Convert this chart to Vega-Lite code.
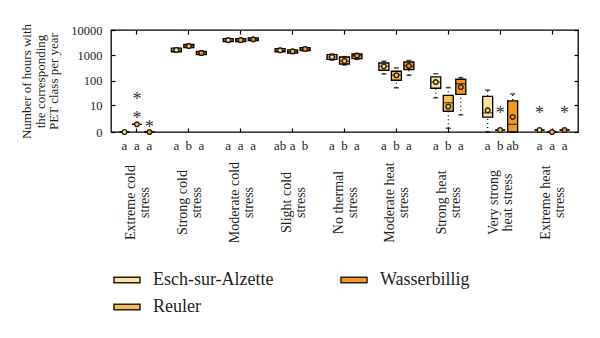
{
  "$schema": "https://vega.github.io/schema/vega-lite/v6.json",
  "padding": {"left": 20, "top": 22, "right": 10, "bottom": 5},
  "background": "white",
  "bounds": "flush",
  "config": {"view": {"stroke": null}, "font": "Liberation Serif"},
  "spacing": 5,
  "datasets": {
    "boxes": [
      {"pet": "Extreme cold stress", "station": "Esch-sur-Alzette", "letter": "a", "min": 0, "q1": 0, "median": 0, "q3": 0, "max": 0, "mean": 0},
      {"pet": "Extreme cold stress", "station": "Reuler", "letter": "a", "min": 1, "q1": 1, "median": 1, "q3": 1, "max": 1, "mean": 1},
      {"pet": "Extreme cold stress", "station": "Wasserbillig", "letter": "a", "min": 0, "q1": 0, "median": 0, "q3": 0, "max": 0, "mean": 0},
      {"pet": "Strong cold stress", "station": "Esch-sur-Alzette", "letter": "a", "min": 1350, "q1": 1400, "median": 1650, "q3": 1950, "max": 2000, "mean": 1650},
      {"pet": "Strong cold stress", "station": "Reuler", "letter": "b", "min": 2000, "q1": 2050, "median": 2350, "q3": 2700, "max": 2800, "mean": 2350},
      {"pet": "Strong cold stress", "station": "Wasserbillig", "letter": "a", "min": 1050, "q1": 1080, "median": 1250, "q3": 1450, "max": 1500, "mean": 1250},
      {"pet": "Moderate cold stress", "station": "Esch-sur-Alzette", "letter": "a", "min": 3400, "q1": 3500, "median": 4000, "q3": 4600, "max": 4700, "mean": 4000},
      {"pet": "Moderate cold stress", "station": "Reuler", "letter": "a", "min": 3400, "q1": 3500, "median": 4000, "q3": 4600, "max": 4700, "mean": 4000},
      {"pet": "Moderate cold stress", "station": "Wasserbillig", "letter": "a", "min": 3700, "q1": 3800, "median": 4300, "q3": 4900, "max": 5000, "mean": 4300},
      {"pet": "Slight cold stress", "station": "Esch-sur-Alzette", "letter": "ab", "min": 1350, "q1": 1400, "median": 1600, "q3": 1850, "max": 1900, "mean": 1600},
      {"pet": "Slight cold stress", "station": "Reuler", "letter": "a", "min": 1200, "q1": 1250, "median": 1450, "q3": 1650, "max": 1700, "mean": 1450},
      {"pet": "Slight cold stress", "station": "Wasserbillig", "letter": "b", "min": 1500, "q1": 1550, "median": 1800, "q3": 2050, "max": 2100, "mean": 1800},
      {"pet": "No thermal stress", "station": "Esch-sur-Alzette", "letter": "a", "min": 650, "q1": 710, "median": 870, "q3": 1075, "max": 1150, "mean": 870},
      {"pet": "No thermal stress", "station": "Reuler", "letter": "b", "min": 424, "q1": 464, "median": 600, "q3": 873, "max": 900, "mean": 608},
      {"pet": "No thermal stress", "station": "Wasserbillig", "letter": "a", "min": 700, "q1": 750, "median": 980, "q3": 1145, "max": 1200, "mean": 985},
      {"pet": "Moderate heat stress", "station": "Esch-sur-Alzette", "letter": "a", "min": 188, "q1": 263, "median": 380, "q3": 508, "max": 592, "mean": 376},
      {"pet": "Moderate heat stress", "station": "Reuler", "letter": "b", "min": 53, "q1": 106, "median": 170, "q3": 240, "max": 323, "mean": 167},
      {"pet": "Moderate heat stress", "station": "Wasserbillig", "letter": "a", "min": 167, "q1": 278, "median": 390, "q3": 556, "max": 637, "mean": 387},
      {"pet": "Strong heat stress", "station": "Esch-sur-Alzette", "letter": "a", "min": 21, "q1": 51, "median": 90, "q3": 143, "max": 192, "mean": 90},
      {"pet": "Strong heat stress", "station": "Reuler", "letter": "b", "min": 0.4, "q1": 5.5, "median": 13, "q3": 26.5, "max": 54, "mean": 9},
      {"pet": "Strong heat stress", "station": "Wasserbillig", "letter": "a", "min": 3.7, "q1": 29, "median": 77, "q3": 116, "max": 136, "mean": 57},
      {"pet": "Very strong heat stress", "station": "Esch-sur-Alzette", "letter": "a", "min": 0, "q1": 2.8, "median": 4.6, "q3": 24, "max": 43, "mean": 6.1},
      {"pet": "Very strong heat stress", "station": "Reuler", "letter": "b", "min": 0.2, "q1": 0.2, "median": 0.2, "q3": 0.2, "max": 0.2, "mean": 0.2},
      {"pet": "Very strong heat stress", "station": "Wasserbillig", "letter": "ab", "min": 0, "q1": 0, "median": 1, "q3": 15.5, "max": 30, "mean": 2.9},
      {"pet": "Extreme heat stress", "station": "Esch-sur-Alzette", "letter": "a", "min": 0.2, "q1": 0.2, "median": 0.2, "q3": 0.2, "max": 0.2, "mean": 0.2},
      {"pet": "Extreme heat stress", "station": "Reuler", "letter": "a", "min": 0, "q1": 0, "median": 0, "q3": 0, "max": 0, "mean": 0},
      {"pet": "Extreme heat stress", "station": "Wasserbillig", "letter": "a", "min": 0.2, "q1": 0.2, "median": 0.2, "q3": 0.2, "max": 0.2, "mean": 0.2}
    ],
    "outliers": [
      {"pet": "Extreme cold stress", "station": "Reuler", "value": 3.5},
      {"pet": "Extreme cold stress", "station": "Reuler", "value": 24},
      {"pet": "Extreme cold stress", "station": "Wasserbillig", "value": 1},
      {"pet": "Very strong heat stress", "station": "Reuler", "value": 6.3},
      {"pet": "Extreme heat stress", "station": "Esch-sur-Alzette", "value": 6.3},
      {"pet": "Extreme heat stress", "station": "Wasserbillig", "value": 6.3}
    ]
  },
  "vconcat": [
    {
      "width": 467,
      "height": 102,
      "view": {"stroke": "#000", "strokeWidth": 1.3},
      "layer": [
        {
          "data": {"name": "boxes"},
          "mark": {"type": "point", "opacity": 0},
          "encoding": {
            "x": {"field": "pet", "type": "nominal", "sort": ["Extreme cold stress", "Strong cold stress", "Moderate cold stress", "Slight cold stress", "No thermal stress", "Moderate heat stress", "Strong heat stress", "Very strong heat stress", "Extreme heat stress"], "scale": {"paddingInner": 0, "paddingOuter": 0},
              "axis": {"orient": "bottom", "labels": false, "title": null, "domain": false, "grid": false, "tickSize": -4, "tickColor": "#000", "tickWidth": 1.2}},
            "y": {"field": "max", "type": "quantitative", "scale": {"type": "symlog", "constant": 1, "domain": [0, 10000], "nice": false},
              "axis": {"orient": "left", "values": [0, 10, 100, 1000, 10000], "format": "d", "grid": false, "domain": false, "tickSize": -4, "tickColor": "#000", "tickWidth": 1.2, "labelPadding": 13, "labelFont": "Liberation Serif", "labelFontSize": 12.5, "labelColor": "#231f20",
                "title": ["Number of hours with", "the corresponding", "PET class per year"], "titleFont": "Liberation Serif", "titleFontSize": 13, "titleFontWeight": "normal", "titleColor": "#231f20", "titleLineHeight": 13.5, "titlePadding": 10}}
          }
        },
        {
          "data": {"name": "boxes"},
          "encoding": {
            "x": {"field": "pet", "type": "nominal", "sort": ["Extreme cold stress", "Strong cold stress", "Moderate cold stress", "Slight cold stress", "No thermal stress", "Moderate heat stress", "Strong heat stress", "Very strong heat stress", "Extreme heat stress"], "axis": null},
            "xOffset": {"field": "station", "type": "nominal", "sort": ["Esch-sur-Alzette", "Reuler", "Wasserbillig"], "scale": {"paddingInner": 0.2, "paddingOuter": 0.675}}
          },
          "layer": [
            {
              "mark": {"type": "rule", "strokeDash": [1, 3], "color": "#000", "strokeWidth": 1.2},
              "encoding": {
                "y": {"field": "min", "type": "quantitative", "axis": null},
                "y2": {"field": "max"}
              }
            },
            {
              "mark": {"type": "bar", "stroke": "#000", "strokeWidth": 1.3},
              "encoding": {
                "y": {"field": "q1", "type": "quantitative", "axis": null},
                "y2": {"field": "q3"},
                "color": {"field": "station", "type": "nominal", "sort": ["Esch-sur-Alzette", "Reuler", "Wasserbillig"],
                  "scale": {"domain": ["Esch-sur-Alzette", "Reuler", "Wasserbillig"], "range": ["#FAE49A", "#F5C04E", "#F39A1E"]},
                  "legend": {"orient": "none", "legendX": 2, "legendY": 236, "title": null, "columns": 2, "columnPadding": 64, "rowPadding": 4, "symbolType": "M-1,-0.22H1V0.22H-1Z", "symbolSize": 676, "symbolStrokeColor": "#000", "symbolStrokeWidth": 1.5, "symbolOpacity": 1, "labelFont": "Liberation Serif", "labelFontSize": 18, "labelColor": "#231f20", "labelOffset": 12, "labelLimit": 0}}
              }
            },
            {
              "mark": {"type": "tick", "color": "#000", "size": 10, "thickness": 1.2},
              "encoding": {"y": {"field": "median", "type": "quantitative", "axis": null}}
            },
            {
              "mark": {"type": "tick", "color": "#000", "size": 5, "thickness": 1.5},
              "encoding": {"y": {"field": "min", "type": "quantitative", "axis": null}}
            },
            {
              "mark": {"type": "tick", "color": "#000", "size": 5, "thickness": 1.5},
              "encoding": {"y": {"field": "max", "type": "quantitative", "axis": null}}
            },
            {
              "mark": {"type": "point", "shape": "circle", "filled": true, "size": 22, "stroke": "#2b1d0e", "strokeWidth": 1.4, "opacity": 1},
              "encoding": {
                "y": {"field": "mean", "type": "quantitative", "axis": null},
                "color": {"field": "station", "type": "nominal", "sort": ["Esch-sur-Alzette", "Reuler", "Wasserbillig"]}
              }
            }
          ]
        },
        {
          "data": {"name": "outliers"},
          "mark": {"type": "text", "text": "*", "font": "Liberation Serif", "fontSize": 18, "color": "#333", "baseline": "middle", "dy": 4},
          "encoding": {
            "x": {"field": "pet", "type": "nominal", "sort": ["Extreme cold stress", "Strong cold stress", "Moderate cold stress", "Slight cold stress", "No thermal stress", "Moderate heat stress", "Strong heat stress", "Very strong heat stress", "Extreme heat stress"], "axis": null},
            "xOffset": {"field": "station", "type": "nominal", "sort": ["Esch-sur-Alzette", "Reuler", "Wasserbillig"]},
            "y": {"field": "value", "type": "quantitative", "axis": null}
          }
        },
        {
          "data": {"name": "boxes"},
          "mark": {"type": "point", "opacity": 0},
          "encoding": {
            "x": {"field": "pet", "type": "nominal", "sort": ["Extreme cold stress", "Strong cold stress", "Moderate cold stress", "Slight cold stress", "No thermal stress", "Moderate heat stress", "Strong heat stress", "Very strong heat stress", "Extreme heat stress"], "axis": {"orient": "top", "labels": false, "title": null, "domain": false, "grid": false, "tickSize": -4, "tickColor": "#000", "tickWidth": 1.2}},
            "y": {"field": "max", "type": "quantitative", "axis": {"orient": "right", "labels": false, "title": null, "domain": false, "grid": false, "values": [0, 10, 100, 1000, 10000], "tickSize": -4, "tickColor": "#000", "tickWidth": 1.2}}
          }
        }
      ],
      "resolve": {"axis": {"x": "independent", "y": "independent"}}
    },
    {
      "width": 467,
      "height": 17,
      "data": {"name": "boxes"},
      "mark": {"type": "text", "font": "Liberation Serif", "fontSize": 13, "color": "#231f20"},
      "encoding": {
        "x": {"field": "pet", "type": "nominal", "sort": ["Extreme cold stress", "Strong cold stress", "Moderate cold stress", "Slight cold stress", "No thermal stress", "Moderate heat stress", "Strong heat stress", "Very strong heat stress", "Extreme heat stress"], "scale": {"paddingInner": 0, "paddingOuter": 0},
          "axis": {"orient": "bottom", "title": null, "domain": false, "ticks": false, "tickSize": 0, "grid": false, "labelAngle": -90, "labelAlign": "center", "labelBaseline": "middle", "labelPadding": 48, "labelOffset": -6, "labelFont": "Liberation Serif", "labelFontSize": 14, "labelLineHeight": 14, "labelColor": "#231f20", "labelLimit": 0,
            "labelExpr": "datum.value == 'Very strong heat stress' ? ['Very strong', 'heat stress'] : [slice(datum.value, 0, lastindexof(datum.value, ' ')), 'stress']"}},
        "xOffset": {"field": "station", "type": "nominal", "sort": ["Esch-sur-Alzette", "Reuler", "Wasserbillig"], "scale": {"paddingInner": 0.2, "paddingOuter": 0.675}},
        "text": {"field": "letter"}
      }
    }
  ]
}
